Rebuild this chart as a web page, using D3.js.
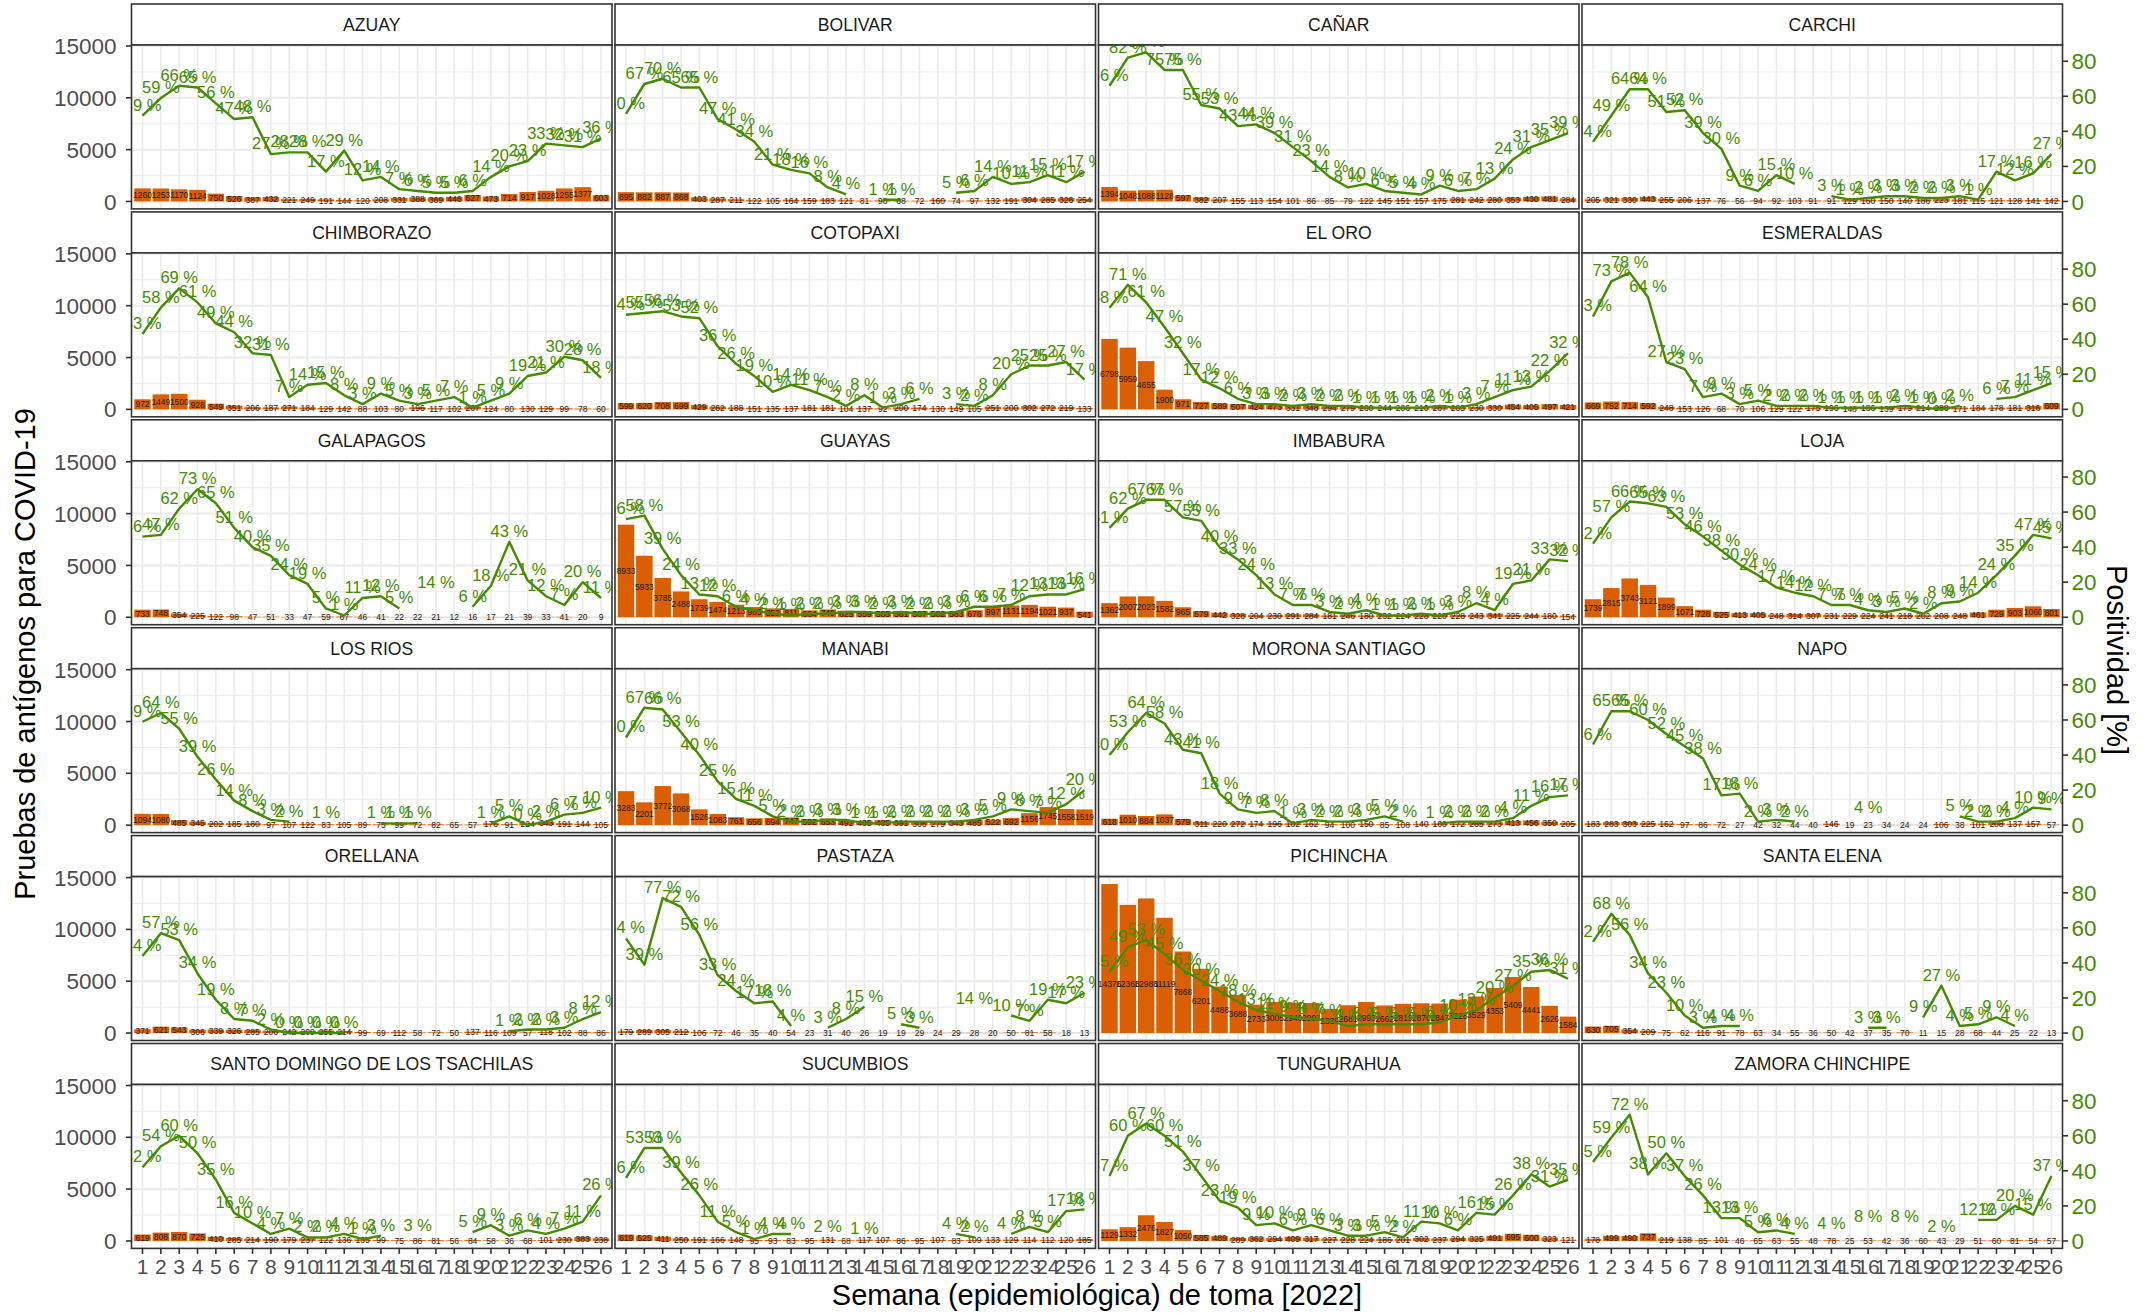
<!DOCTYPE html>
<html><head><meta charset="utf-8">
<script src="https://cdn.jsdelivr.net/npm/d3@7"></script>
<style>
body{margin:0;background:#fff}
svg{display:block}
text{font-family:"Liberation Sans",Arial,sans-serif}
</style>
</head><body>
<svg id="chart" width="2148" height="1313"></svg>
<script>
// ---------------- DATA ----------------
const weeks = [1,2,3,4,5,6,7,8,9,10,11,12,13,14,15,16,17,18,19,20,21,22,23,24,25,26];
const provinces = ["AZUAY","BOLIVAR","CAÑAR","CARCHI","CHIMBORAZO","COTOPAXI","EL ORO","ESMERALDAS",
  "GALAPAGOS","GUAYAS","IMBABURA","LOJA","LOS RIOS","MANABI","MORONA SANTIAGO","NAPO",
  "ORELLANA","PASTAZA","PICHINCHA","SANTA ELENA","SANTO DOMINGO DE LOS TSACHILAS","SUCUMBIOS","TUNGURAHUA","ZAMORA CHINCHIPE"];

const azuayTests = [1260,1253,1170,1124,750,526,387,432,221,249,191,144,120,208,331,388,369,446,627,473,714,917,1028,1255,1377,603];
const azuayPos   = [49,59,66,65,56,47,48,27,28,28,17,29,12,14,7,6,5,5,6,14,20,23,33,32,31,36];
const bolivarTests = [895,882,887,868,403,287,211,122,105,164,159,183,121,81,98,68,72,160,74,97,132,191,304,285,326,254];
const bolivarPos   = [50,67,70,65,65,47,41,34,21,18,16,8,4,null,1,1,null,null,5,6,14,10,11,15,11,17];
const canarTests = [1394,1048,1088,1128,597,382,207,155,113,154,101,86,85,79,122,145,151,157,175,281,242,280,353,430,481,284];
const canarPos   = [66,82,85,75,75,55,53,43,44,39,31,23,14,8,10,6,5,4,9,6,7,13,24,31,35,39];
const carchiTests = [205,321,330,443,255,206,137,76,56,94,92,103,91,91,129,160,150,140,186,223,181,115,121,128,141,142];
const carchiPos   = [34,49,64,64,51,52,39,30,9,6,15,10,null,3,1,2,3,3,2,2,3,1,17,12,16,27];
const chimborazoTests = [972,1449,1500,928,549,351,206,187,271,184,129,142,88,103,80,196,117,102,267,124,80,130,129,99,78,60];
const chimborazoPos   = [43,58,69,61,49,44,32,31,7,14,15,8,3,9,5,3,5,7,1,5,9,19,21,30,28,18];
const cotopaxiTests = [599,620,708,699,429,262,188,151,135,137,181,181,104,137,92,200,174,130,149,105,251,200,302,272,219,133];
const cotopaxiPos   = [54,55,56,53,52,36,26,19,10,14,11,7,2,8,1,3,6,null,3,2,8,20,25,25,27,17];
const elOroTests = [6798,5959,4655,1900,971,727,589,507,424,473,331,348,294,279,280,244,206,210,287,285,230,330,454,405,497,421];
const elOroPos   = [58,71,61,47,32,17,12,6,3,3,2,3,2,2,1,1,1,1,2,1,3,7,11,13,22,32];
const esmeraldasTests = [669,752,714,592,248,153,126,68,70,106,129,122,175,196,148,186,139,179,214,288,171,184,178,181,316,609];
const esmeraldasPos   = [53,73,78,64,27,23,7,9,3,5,2,2,2,1,1,1,1,2,1,0,2,null,6,7,11,15];
const galapagosTests = [733,748,354,225,122,98,47,51,33,47,59,67,46,41,22,22,21,12,16,17,21,39,33,41,20,9];
const galapagosPos   = [46,47,62,73,65,51,40,35,24,19,5,1,11,12,5,null,14,null,6,18,43,21,12,7,20,11];
const guayasTests = [8933,5933,3785,2488,1739,1474,1213,985,852,811,664,749,625,559,585,581,587,582,583,676,997,1131,1194,1021,937,541];
const guayasPos   = [56,58,39,24,13,12,6,4,2,1,2,2,3,3,2,3,2,2,3,6,6,7,12,13,13,16];
const imbaburaTests = [1362,2007,2023,1582,965,579,442,328,204,230,291,284,181,246,180,232,224,228,220,228,243,341,225,244,180,154];
const imbaburaPos   = [51,62,67,67,57,55,40,33,24,13,7,7,3,2,4,1,1,2,1,3,8,4,19,21,33,32];
const lojaTests = [1739,2815,3743,3121,1899,1071,728,525,413,405,248,314,307,231,229,224,241,218,202,208,248,461,729,903,1060,801];
const lojaPos   = [42,57,66,65,63,53,46,38,30,24,17,14,12,7,7,4,3,5,2,8,9,14,24,35,47,45];
const losRiosTests = [1094,1080,485,345,202,185,180,97,107,122,83,105,89,75,99,72,82,65,57,176,91,224,343,191,144,105];
const losRiosPos   = [59,64,55,39,26,14,8,3,2,null,1,null,null,1,1,1,null,null,null,1,5,0,2,6,7,10];
const manabiTests = [3283,2201,3772,3068,1526,1083,761,656,694,747,592,653,492,435,485,391,306,279,343,485,522,692,1156,1745,1558,1519];
const manabiPos   = [50,67,66,53,40,25,15,11,5,2,2,3,3,1,1,2,2,2,2,3,5,9,8,7,12,20];
const moronaTests = [618,1010,884,1037,579,311,220,272,174,196,182,162,94,100,150,85,108,140,168,172,265,273,413,456,350,205];
const moronaPos   = [40,53,64,58,43,41,18,9,7,8,1,3,2,2,3,5,2,null,1,2,2,2,4,11,16,17];
const napoTests = [183,283,303,225,162,97,86,72,27,42,32,44,40,146,19,23,34,24,24,106,38,101,208,137,157,57];
const napoPos   = [46,65,65,60,52,45,38,17,18,2,3,2,null,null,null,4,null,null,null,null,5,2,2,4,10,9];
const orellanaTests = [371,621,543,306,339,326,285,206,242,209,255,214,99,69,112,58,72,50,137,116,109,57,118,102,88,86];
const orellanaPos   = [44,57,53,34,19,8,7,2,0,0,0,0,null,null,null,null,null,null,null,null,1,2,2,3,8,12];
const pastazaTests = [179,289,305,212,106,72,46,35,40,54,23,31,40,26,19,19,29,24,29,28,20,50,81,58,18,13];
const pastazaPos   = [54,39,77,72,56,33,24,17,18,4,null,3,8,15,null,5,3,null,null,14,null,10,7,19,17,23];
const pichinchaTests = [14376,12368,12988,11119,7868,6201,4488,3688,2733,3005,2940,2903,2339,2681,2993,2662,2819,2870,2847,3228,3529,4353,5409,4441,2626,1584];
const pichinchaPos   = [35,49,53,45,36,30,24,18,13,11,9,8,7,4,5,5,5,5,6,10,13,20,27,35,36,31];
const santaElenaTests = [630,705,354,209,75,62,116,91,78,63,34,55,36,50,42,37,35,70,11,15,28,68,44,25,22,13];
const santaElenaPos   = [52,68,56,34,23,10,3,4,4,null,null,null,null,null,null,3,3,null,9,27,4,5,9,4,null,null];
const santoDomingoTests = [619,808,870,725,410,285,214,190,179,237,122,136,135,99,75,86,81,56,84,58,36,68,101,230,383,238];
const santoDomingoPos   = [42,54,60,50,35,16,10,4,7,2,2,4,1,3,null,3,null,null,5,9,3,6,4,7,11,26];
const sucumbiosTests = [619,525,411,250,191,166,148,95,93,83,95,131,68,117,107,86,95,107,83,109,133,129,114,112,120,185];
const sucumbiosPos   = [36,53,53,39,26,11,5,1,4,4,null,2,null,1,null,null,null,null,4,2,null,4,8,5,17,18];
const tungurahuaTests = [1129,1332,2476,1827,1050,585,489,289,362,294,409,317,227,228,224,186,201,302,237,294,325,491,695,600,323,121];
const tungurahuaPos   = [37,60,67,60,51,37,23,19,9,10,6,9,6,3,3,5,2,11,10,6,16,15,26,38,31,35];
const zamoraTests = [178,499,490,737,219,138,85,101,46,65,63,55,48,78,25,53,42,36,60,43,29,51,60,81,54,57];
const zamoraPos   = [45,59,72,38,50,37,26,13,13,5,6,4,null,4,null,8,null,8,null,2,null,12,12,20,15,37];

const testsList = [azuayTests,bolivarTests,canarTests,carchiTests,chimborazoTests,cotopaxiTests,elOroTests,esmeraldasTests,
  galapagosTests,guayasTests,imbaburaTests,lojaTests,losRiosTests,manabiTests,moronaTests,napoTests,
  orellanaTests,pastazaTests,pichinchaTests,santaElenaTests,santoDomingoTests,sucumbiosTests,tungurahuaTests,zamoraTests];
const posList = [azuayPos,bolivarPos,canarPos,carchiPos,chimborazoPos,cotopaxiPos,elOroPos,esmeraldasPos,
  galapagosPos,guayasPos,imbaburaPos,lojaPos,losRiosPos,manabiPos,moronaPos,napoPos,
  orellanaPos,pastazaPos,pichinchaPos,santaElenaPos,santoDomingoPos,sucumbiosPos,tungurahuaPos,zamoraPos];

const countTicks = [0,5000,10000,15000];
const countMinorTicks = [2500,7500,12500];
const posTicks = [0,20,40,60,80];

const xTitle = "Semana (epidemiológica) de toma [2022]";
const yTitle = "Pruebas de antígenos para COVID-19";
const y2Title = "Positividad [%]";

// ---------------- STYLE / LAYOUT ----------------
const barColor = "#D95F02";
const lineColor = "#458B00";
const gridColor = "#EBEBEB";
const borderColor = "#333333";
const axisTextColor = "#4D4D4D";

const ncol = 4;
const plotLeft = 131.5, panelW = 480.5, gapX = 3;
const plotTop = 4, stripH = 41, panelH = 163.9, rowPitch = 207.9;

const maxCount = d3.max(testsList.flat());
const maxPos = d3.max(posList.flat().filter(v => v != null));
const K = maxCount / maxPos;            // secondary axis scale factor
const expand = 0.05 * maxCount;

const x = d3.scalePoint().domain(weeks).range([0, panelW]).padding(0.6);
const barW = x.step() * 0.9;
const y = d3.scaleLinear().domain([-expand, maxCount + expand]).range([panelH, 0]);

const svg = d3.select("#chart");
svg.append("rect").attr("width", 2148).attr("height", 1313).attr("fill", "#fff");

const nRows = Math.ceil(provinces.length / ncol);

provinces.forEach((name, i) => {
  const col = i % ncol, row = Math.floor(i / ncol);
  const gx = plotLeft + col * (panelW + gapX);
  const gy = plotTop + row * rowPitch;
  const g = svg.append("g").attr("transform", `translate(${gx},${gy})`);

  // strip
  g.append("rect").attr("x", 0).attr("y", 0).attr("width", panelW).attr("height", stripH)
    .attr("fill", "#fff").attr("stroke", borderColor).attr("stroke-width", 1.6);
  g.append("text").attr("x", panelW / 2).attr("y", stripH / 2).attr("dy", "0.36em")
    .attr("text-anchor", "middle").attr("font-size", 17.6).attr("fill", "#1A1A1A").text(name);

  const p = g.append("g").attr("transform", `translate(0,${stripH})`);
  const clipId = "clip" + i;
  p.append("clipPath").attr("id", clipId).append("rect")
    .attr("x", 0).attr("y", 0).attr("width", panelW).attr("height", panelH);

  p.append("rect").attr("width", panelW).attr("height", panelH).attr("fill", "#fff");

  // grid
  const grid = p.append("g");
  grid.selectAll(".ymin").data(countMinorTicks).join("line")
    .attr("x1", 0).attr("x2", panelW).attr("y1", d => y(d)).attr("y2", d => y(d))
    .attr("stroke", gridColor).attr("stroke-width", 1);
  grid.selectAll(".ymaj").data(countTicks).join("line")
    .attr("x1", 0).attr("x2", panelW).attr("y1", d => y(d)).attr("y2", d => y(d))
    .attr("stroke", gridColor).attr("stroke-width", 2);
  grid.selectAll(".xmaj").data(weeks).join("line")
    .attr("x1", d => x(d)).attr("x2", d => x(d)).attr("y1", 0).attr("y2", panelH)
    .attr("stroke", gridColor).attr("stroke-width", 1.6);

  const tests = testsList[i], pos = posList[i];
  const rows = weeks.map((w, k) => ({ week: w, tests: tests[k], pos: pos[k] }));

  const layer = p.append("g").attr("clip-path", `url(#${clipId})`);

  // bars
  layer.selectAll(".bar").data(rows).join("rect")
    .attr("x", d => x(d.week) - barW / 2).attr("width", barW)
    .attr("y", d => y(d.tests)).attr("height", d => y(0) - y(d.tests))
    .attr("fill", barColor);

  // bar labels
  layer.selectAll(".blab").data(rows).join("text")
    .attr("x", d => x(d.week)).attr("y", d => y(Math.min(d.tests / 2, 4700)))
    .attr("dy", "0.36em").attr("text-anchor", "middle")
    .attr("font-size", 8.5).attr("fill", "#1A1A1A").text(d => d.tests);

  // positivity line
  const line = d3.line().defined(d => d.pos != null)
    .x(d => x(d.week)).y(d => y(d.pos * K));
  layer.append("path").datum(rows).attr("d", line)
    .attr("fill", "none").attr("stroke", lineColor).attr("stroke-width", 2.4)
    .attr("stroke-linejoin", "round");

  // positivity labels
  layer.selectAll(".plab").data(rows.filter(d => d.pos != null)).join("text")
    .attr("x", d => x(d.week)).attr("y", d => y(d.pos * K) - 5)
    .attr("text-anchor", "middle").attr("font-size", 16.5).attr("fill", lineColor)
    .text(d => d.pos + " %");

  // border
  p.append("rect").attr("width", panelW).attr("height", panelH)
    .attr("fill", "none").attr("stroke", borderColor).attr("stroke-width", 1.6);

  // left axis
  if (col === 0) {
    const ax = p.append("g");
    ax.selectAll("line").data(countTicks).join("line")
      .attr("x1", -5.5).attr("x2", 0).attr("y1", d => y(d)).attr("y2", d => y(d))
      .attr("stroke", borderColor).attr("stroke-width", 1.6);
    ax.selectAll("text").data(countTicks).join("text")
      .attr("x", -15).attr("y", d => y(d)).attr("dy", "0.36em").attr("text-anchor", "end")
      .attr("font-size", 22.5).attr("fill", axisTextColor).text(d => d);
  }
  // right axis
  if (col === ncol - 1) {
    const ax = p.append("g").attr("transform", `translate(${panelW},0)`);
    ax.selectAll("line").data(posTicks).join("line")
      .attr("x1", 0).attr("x2", 5.5).attr("y1", d => y(d * K)).attr("y2", d => y(d * K))
      .attr("stroke", borderColor).attr("stroke-width", 1.6);
    ax.selectAll("text").data(posTicks).join("text")
      .attr("x", 9).attr("y", d => y(d * K)).attr("dy", "0.36em").attr("text-anchor", "start")
      .attr("font-size", 22.5).attr("fill", lineColor).text(d => d);
  }
  // bottom axis
  if (row === nRows - 1) {
    const ax = p.append("g").attr("transform", `translate(0,${panelH})`);
    ax.selectAll("line").data(weeks).join("line")
      .attr("x1", d => x(d)).attr("x2", d => x(d)).attr("y1", 0).attr("y2", 5.5)
      .attr("stroke", borderColor).attr("stroke-width", 1.6);
    ax.selectAll("text").data(weeks).join("text")
      .attr("x", d => x(d)).attr("y", 26).attr("text-anchor", "middle")
      .attr("font-size", 21).attr("fill", axisTextColor).text(d => d);
  }
});

// axis titles
const totalRight = plotLeft + ncol * panelW + (ncol - 1) * gapX;
svg.append("text").attr("x", (plotLeft + totalRight) / 2).attr("y", 1305)
  .attr("text-anchor", "middle").attr("font-size", 29).attr("fill", "#000").text(xTitle);
svg.append("text").attr("transform", "translate(35,654) rotate(-90)")
  .attr("text-anchor", "middle").attr("font-size", 29).attr("fill", "#000").text(yTitle);
svg.append("text").attr("transform", "translate(2107,660) rotate(90)")
  .attr("text-anchor", "middle").attr("font-size", 29).attr("fill", "#000").text(y2Title);
</script>
</body></html>
